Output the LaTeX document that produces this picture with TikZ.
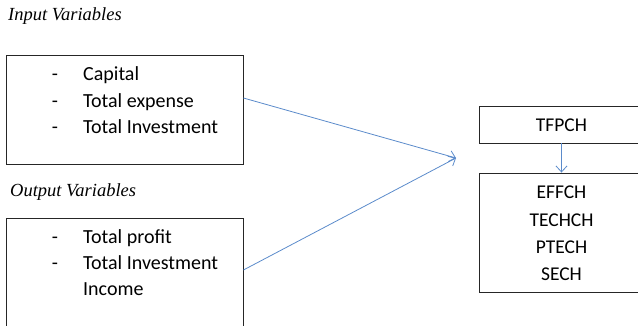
\documentclass[tikz,border=0pt]{standalone}
\usepackage{fontspec}
\setmainfont{Carlito}
\newfontfamily\headfont{Liberation Serif}
\usepackage{tikz}
\usetikzlibrary{positioning}
\usetikzlibrary{arrows.meta}
\definecolor{linkblue}{HTML}{5B8BCB}
\definecolor{boxline}{HTML}{262626}
\tikzset{
  varbox/.style={draw=boxline,line width=0.9pt,inner sep=0pt},
  item/.style={font=\fontsize{20}{24}\selectfont,inner sep=0pt,anchor=base west},
  dashmark/.style={font=\fontsize{20}{24}\selectfont,inner sep=0pt,anchor=base},
  ratio/.style={font=\fontsize{19.5}{23}\selectfont,inner sep=0pt,anchor=base},
  heading/.style={font=\headfont\itshape\fontsize{18.5}{22}\selectfont,inner sep=0pt,anchor=base west},
  link/.style={draw=linkblue,line width=0.8pt,-{Straight Barb[length=6pt,width=11pt]}}
}

\begin{document}
\begin{tikzpicture}[x=1pt,y=-1pt]
\useasboundingbox (0,0) rectangle (638,325);
\clip (0,0) rectangle (638,325);

\node[heading] (inhead) at (8,20.7) {Input Variables};
\node[varbox,minimum width=237pt,minimum height=109pt] (inbox) at (124.5,109.5) {};
\foreach \y/\t [count=\i] in {80.7/Capital,107/Total expense,133.5/Total Investment}{
  \node[dashmark] (indash\i) at (55,\y) {-};
  \node[item] (in\i) at (83,\y) {\t};
}

\node[heading] (outhead) at (10,196.7) {Output Variables};
\node[varbox,minimum width=237pt,minimum height=117pt] (outbox) at (124.5,276.5) {};
\foreach \y/\t [count=\i] in {243.3/Total profit,269.3/Total Investment}{
  \node[dashmark] (outdash\i) at (55,\y) {-};
  \node[item] (out\i) at (83,\y) {\t};
}
\node[item] (out3) at (83,295) {Income};

\node[varbox,minimum width=166pt,minimum height=37pt] (tfpbox) at (562,124.5) {};
\node[ratio] (tfpch) at (561.5,131.7) {TFPCH};
\node[varbox,minimum width=166pt,minimum height=119pt] (decbox) at (562,232.5) {};
\foreach \y/\t in {198.3/EFFCH,226/TECHCH,253/PTECH,280.7/SECH}{
  \node[ratio] (\t) at (561.5,\y) {\t};
}

\coordinate (meet) at (456,158);
\draw[link] (inbox.east |- 0,98) -- (meet);
\draw[link] (outbox.east |- 0,270) -- (meet);
\draw[link] (tfpch |- tfpbox.south) -- (tfpch |- decbox.north);

\end{tikzpicture}
\end{document}
